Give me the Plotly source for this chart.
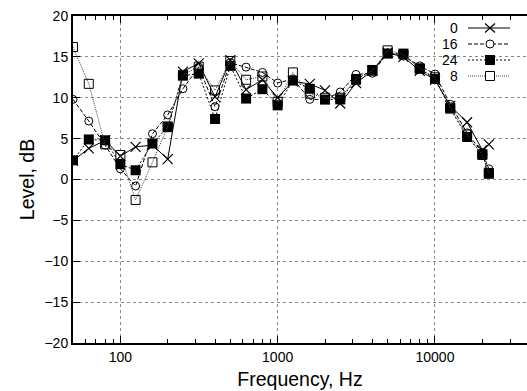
import plotly.graph_objects as go

freqs = [50, 63, 80, 100, 125, 160, 200, 250, 315, 400, 500, 630, 800, 1000,
         1250, 1600, 2000, 2500, 3150, 4000, 5000, 6300, 8000, 10000, 12500,
         16000, 20000, 22000]

s0 = [2.3, 3.8, 4.8, 2.85, 4.0, 4.2, 2.5, 13.2, 14.2, 10.1, 14.6, 11.0, 12.2, 10.0,
      12.0, 11.7, 10.9, 9.3, 11.8, 13.3, 15.5, 15.0, 13.3, 12.2, 9.0, 7.0, 3.6, 4.3]
s16 = [9.8, 7.15, 4.2, 1.3, -0.8, 5.6, 7.9, 11.1, 13.75, 8.9, 14.3, 13.75, 13.1, 11.8,
       12.3, 9.8, 9.8, 10.7, 12.85, 13.0, 15.5, 15.1, 13.9, 12.9, 9.2, 5.7, 3.3, 1.3]
s24 = [2.35, 4.9, 4.8, 1.87, 1.13, 4.4, 6.4, 12.7, 12.95, 7.4, 13.9, 9.9, 11.05, 9.07,
       12.1, 11.1, 9.77, 9.8, 12.2, 13.4, 15.4, 15.4, 13.55, 12.3, 8.67, 5.2, 3.1, 0.7]
s8 = [16.2, 11.7, 4.3, 3.0, -2.5, 2.1, 6.5, 12.8, 13.8, 10.9, 14.5, 12.2, 12.6, 9.5,
      13.1, 10.5, 10.0, 10.0, 12.3, 13.3, 15.8, 15.3, 13.6, 12.5, 8.8, 5.5, 3.0, 0.8]

series_names = ["0", "16", "24", "8"]
series_vals = [s0, s16, s24, s8]

xtick_vals = [100, 1000, 10000]
xtick_text = ["100", "1000", "10000"]
ytick_vals = [-20, -15, -10, -5, 0, 5, 10, 15, 20]
minor_vals = [60, 70, 80, 90, 200, 300, 400, 500, 600, 700, 800, 900,
              2000, 3000, 4000, 5000, 6000, 7000, 8000, 9000, 20000, 30000, 40000]

dashes = ["solid", "4px,2px", "2px,2px", "1px,1px"]
line_colors = ["black", "black", "black", "#444"]
markers = [
    dict(symbol="x-thin", size=10, line=dict(color="black", width=1.2), color="black"),
    dict(symbol="circle-open", size=8, line=dict(color="black", width=1), color="black"),
    dict(symbol="square", size=10, color="black", line=dict(color="black", width=0)),
    dict(symbol="square-open", size=9, line=dict(color="black", width=1), color="black"),
]

fig = go.Figure()
for name, vals, dash, lc, mk in zip(series_names, series_vals, dashes, line_colors, markers):
    fig.add_trace(go.Scatter(x=freqs, y=vals, mode="lines+markers", name=name,
                             line=dict(color=lc, width=1, dash=dash), marker=mk,
                             showlegend=False))

L, R, T, B = 73, 0, 16, 48
W, H = 527, 391
pw, ph = W - L - R, H - T - B

def pxx(px):
    return (px - L) / pw

def pxy(py):
    return (H - B - py) / ph

# manual key (legend), gnuplot style: label right-aligned left of sample
annotations = []
shapes = []
key_x0, key_x1, key_mx, key_label_x = 468, 510, 490, 460
for i, name in enumerate(series_names):
    yy = 28 + 16 * i
    annotations.append(dict(text=name, xref="paper", yref="paper",
                            x=pxx(key_label_x), y=pxy(yy),
                            xanchor="right", yanchor="middle", showarrow=False,
                            font=dict(size=14, color="black")))
    shapes.append(dict(type="line", xref="paper", yref="paper",
                       x0=pxx(key_x0), x1=pxx(key_x1), y0=pxy(yy), y1=pxy(yy),
                       line=dict(color=line_colors[i], width=1, dash=dashes[i])))
    if i == 0:
        for sgn in (1, -1):
            shapes.append(dict(type="line", xref="paper", yref="paper",
                               x0=pxx(key_mx - 5), x1=pxx(key_mx + 5),
                               y0=pxy(yy - 4.5 * sgn), y1=pxy(yy + 4.5 * sgn),
                               line=dict(color="black", width=1.2)))
    elif i == 1:
        shapes.append(dict(type="circle", xref="paper", yref="paper",
                           x0=pxx(key_mx - 4), x1=pxx(key_mx + 4),
                           y0=pxy(yy - 4), y1=pxy(yy + 4),
                           line=dict(color="black", width=1), fillcolor="white"))
    elif i == 2:
        shapes.append(dict(type="rect", xref="paper", yref="paper",
                           x0=pxx(key_mx - 5), x1=pxx(key_mx + 5),
                           y0=pxy(yy - 5), y1=pxy(yy + 5),
                           line=dict(color="black", width=0), fillcolor="black"))
    else:
        shapes.append(dict(type="rect", xref="paper", yref="paper",
                           x0=pxx(key_mx - 4.5), x1=pxx(key_mx + 4.5),
                           y0=pxy(yy - 4.5), y1=pxy(yy + 4.5),
                           line=dict(color="black", width=1), fillcolor="white"))

fig.update_layout(
    width=W, height=H,
    margin=dict(l=L, r=R, t=T, b=B),
    paper_bgcolor="white", plot_bgcolor="white",
    font=dict(family="Liberation Sans, Arial", size=14, color="black"),
    showlegend=False,
    annotations=annotations,
    shapes=shapes,
    xaxis=dict(type="log", range=[1.69897, 4.585],
               tickvals=xtick_vals, ticktext=xtick_text,
               ticks="inside", ticklen=7, tickwidth=1, tickcolor="black",
               showline=True, linecolor="black", linewidth=2, mirror="ticks",
               showgrid=True, gridcolor="#888", griddash="dot", gridwidth=1,
               zeroline=False,
               minor=dict(tickvals=minor_vals, ticks="inside", ticklen=4,
                          tickcolor="black", tickwidth=1, showgrid=False),
               title=dict(text="Frequency, Hz", font=dict(size=19.5), standoff=9),
               tickfont=dict(size=14)),
    yaxis=dict(range=[-20, 20], tickvals=ytick_vals,
               ticks="inside", ticklen=7, tickwidth=1, tickcolor="black",
               showline=True, linecolor="black", linewidth=2, mirror=False,
               showgrid=True, gridcolor="#888", griddash="dot", gridwidth=1,
               zeroline=False,
               title=dict(text="Level, dB", font=dict(size=19.5), standoff=5),
               tickfont=dict(size=14)),
)

fig.write_html("out.html")
